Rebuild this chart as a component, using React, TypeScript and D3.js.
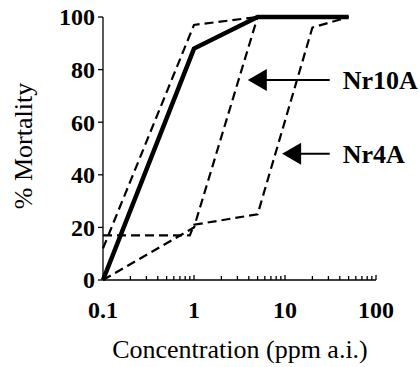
import React from 'react';
import * as d3 from 'd3';

// concentration (ppm a.i.) and % mortality for each curve
const thickX = [0.1, 1, 5, 50];
const thickY = [0, 88, 100, 100];
const upperX = [0.1, 1, 5, 50];
const upperY = [12, 97, 100, 100];
const nr10aX = [0.1, 1, 5, 50];
const nr10aY = [0, 20, 100, 100];
const nr4aX = [0.1, 0.9, 1, 5, 20, 50];
const nr4aY = [17, 17, 21, 25, 96, 100];

const yTicks = [0, 20, 40, 60, 80, 100];
const xTicks = [0.1, 1, 10, 100];
const xTickLabels = ['0.1', '1', '10', '100'];

// arrow annotations: tip concentration, mortality level, tail concentration
const labels = ['Nr10A', 'Nr4A'];
const labelTipX = [3.9, 9.3];
const labelY = [76, 48];
const labelTailX = [31, 31];

const W = 420;
const H = 367;
const FONT = 'Liberation Serif';

const x = d3.scaleLog().domain([0.1, 100]).range([103, 376]);
const y = d3.scaleLinear().domain([0, 100]).range([280, 17]);

const minorTicks = [];
for (let d = 0.1; d < 100; d *= 10) {
    for (let k = 2; k <= 9; k++) minorTicks.push(+(d * k).toPrecision(2));
}

const line = d3.line()
    .x(d => x(d[0]))
    .y(d => y(d[1]));

const series = [
    { xs: nr10aX, ys: nr10aY, w: 2.2, dash: '9,5' },
    { xs: nr4aX, ys: nr4aY, w: 2.2, dash: '9,5' },
    { xs: upperX, ys: upperY, w: 2.2, dash: '9,5' },
    { xs: thickX, ys: thickY, w: 4.5, dash: undefined },
];

const App = () => {
    const x0 = x(0.1);
    const y0 = y(0);
    return (
        <svg width={W} height={H}
            style={{ position: 'absolute', left: 0, top: 0, background: '#fff', fontFamily: FONT }}>
            {/* y axis */}
            <line x1={x0} x2={x0} y1={y(100)} y2={y0} stroke="#000" strokeWidth={1.3} />
            {yTicks.map(t => (
                <g key={t}>
                    <line x1={x0 - 5} x2={x0} y1={y(t)} y2={y(t)} stroke="#000" strokeWidth={1.3} />
                    <text x={x0 - 8} y={y(t)} dy="0.35em" textAnchor="end"
                        style={{ fontFamily: FONT, fontSize: 24, fontWeight: 'bold' }}>{t}</text>
                </g>
            ))}
            {/* x axis, ticks point inward */}
            <line x1={x0} x2={x(100)} y1={y0} y2={y0} stroke="#000" strokeWidth={1.3} />
            {minorTicks.map(t => (
                <line key={t} x1={x(t)} x2={x(t)} y1={y0 - 4} y2={y0} stroke="#000" strokeWidth={1.3} />
            ))}
            {xTicks.map((t, i) => (
                <g key={t}>
                    <line x1={x(t)} x2={x(t)} y1={y0 - 5} y2={y0} stroke="#000" strokeWidth={1.3} />
                    <text x={x(t)} y={y0 + 38} textAnchor="middle"
                        style={{ fontFamily: FONT, fontSize: 24, fontWeight: 'bold' }}>{xTickLabels[i]}</text>
                </g>
            ))}
            {/* curves */}
            {series.map((s, i) => (
                <path key={i}
                    d={line(s.xs.map((v, j) => [v, s.ys[j]]))}
                    fill="none" stroke="#000" strokeWidth={s.w}
                    strokeDasharray={s.dash} strokeLinejoin="miter" />
            ))}
            {/* arrows with labels */}
            {labels.map((lab, i) => {
                const tip = x(labelTipX[i]);
                const tail = x(labelTailX[i]);
                const yy = y(labelY[i]);
                return (
                    <g key={lab}>
                        <line x1={tip + 15} x2={tail} y1={yy} y2={yy} stroke="#000" strokeWidth={2} />
                        <path d={`M${tip},${yy}L${tip + 19},${yy - 11}L${tip + 19},${yy + 11}Z`} fill="#000" />
                        <text x={tail + 13} y={yy + 9}
                            style={{ fontFamily: FONT, fontSize: 26, fontWeight: 'bold' }}>{lab}</text>
                    </g>
                );
            })}
            <text x={240} y={358} textAnchor="middle"
                style={{ fontFamily: FONT, fontSize: 26 }}>Concentration (ppm a.i.)</text>
            <text transform="translate(32,146) rotate(-90)" textAnchor="middle"
                style={{ fontFamily: FONT, fontSize: 26 }}>% Mortality</text>
        </svg>
    );
};

export default App;
